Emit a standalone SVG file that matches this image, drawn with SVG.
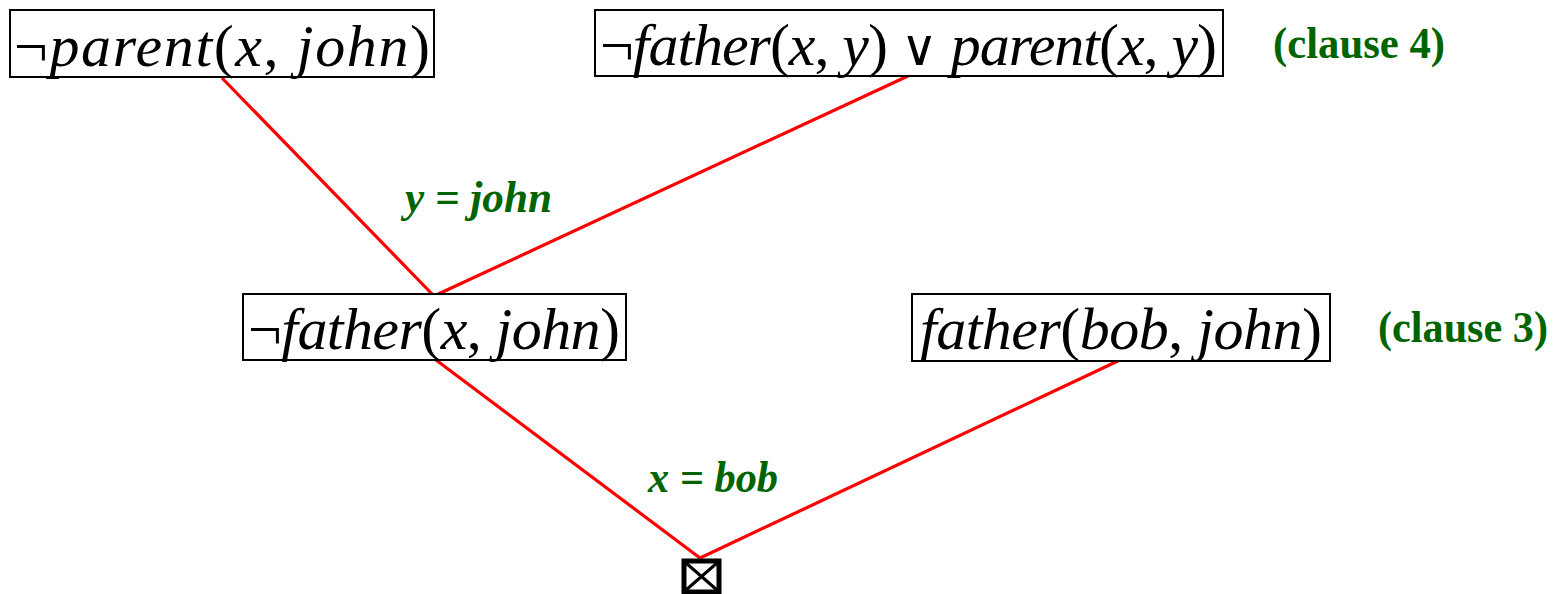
<svg xmlns="http://www.w3.org/2000/svg" width="1558" height="594" viewBox="0 0 1558 594">
<style>
.box{fill:#fff;stroke:#000;stroke-width:2}
.math{font-family:"Liberation Serif","DejaVu Serif",serif;font-size:60px;fill:#000}
.i{font-style:italic}
.or{font-family:"DejaVu Sans","Liberation Serif",sans-serif;font-size:50px;font-weight:200}
.lbl{font-family:"Liberation Serif","DejaVu Serif",serif;font-weight:bold;fill:#006400}
.sub{font-style:italic;font-size:44px}
.cl{font-size:44px}
.edge{stroke:#f00;stroke-width:3.2;fill:none}
</style>
<rect width="1558" height="594" fill="#fff"/>
<g id="connectors">
<line class="edge" x1="222" y1="78" x2="434" y2="296"/>
<line class="edge" x1="908" y1="76" x2="434" y2="296"/>
<line class="edge" x1="436" y1="360" x2="700" y2="558"/>
<line class="edge" x1="1120" y1="360" x2="700" y2="558"/>
</g>
<g id="n1">
<rect class="box" x="10" y="10" width="424" height="67"/>
<text class="math" x="14" y="66" textLength="416" lengthAdjust="spacing">¬<tspan class="i">parent</tspan>(<tspan class="i">x</tspan>, <tspan class="i">john</tspan>)</text>
</g>
<g id="n2">
<rect class="box" x="595" y="10" width="628" height="66"/>
<text class="math" x="600" y="65" textLength="617" lengthAdjust="spacing">¬<tspan class="i">father</tspan>(<tspan class="i">x</tspan>, <tspan class="i">y</tspan>) <tspan class="or">∨</tspan> <tspan class="i">parent</tspan>(<tspan class="i">x</tspan>, <tspan class="i">y</tspan>)</text>
</g>
<g id="clause4">
<text class="lbl cl" x="1273" y="58" textLength="172" lengthAdjust="spacingAndGlyphs">(clause 4)</text>
</g>
<g id="n3">
<rect class="box" x="243" y="294" width="383" height="66"/>
<text class="math" x="248" y="349" textLength="372" lengthAdjust="spacing">¬<tspan class="i">father</tspan>(<tspan class="i">x</tspan>, <tspan class="i">john</tspan>)</text>
</g>
<g id="n4">
<rect class="box" x="912" y="294" width="418" height="67"/>
<text class="math" x="920" y="349" textLength="402" lengthAdjust="spacing"><tspan class="i">father</tspan>(<tspan class="i">bob</tspan>, <tspan class="i">john</tspan>)</text>
</g>
<g id="clause3">
<text class="lbl cl" x="1378" y="342" textLength="170" lengthAdjust="spacingAndGlyphs">(clause 3)</text>
</g>
<g id="sub1">
<text class="lbl sub" x="405" y="212" textLength="147" lengthAdjust="spacingAndGlyphs">y = john</text>
</g>
<g id="sub2">
<text class="lbl sub" x="648" y="492" textLength="130" lengthAdjust="spacingAndGlyphs">x = bob</text>
</g>
<g id="empty">
<rect x="684" y="561" width="35" height="31" fill="#fff" stroke="#000" stroke-width="5"/>
<line x1="686" y1="563" x2="717" y2="590" stroke="#000" stroke-width="3"/>
<line x1="717" y1="563" x2="686" y2="590" stroke="#000" stroke-width="3"/>
</g>
</svg>
